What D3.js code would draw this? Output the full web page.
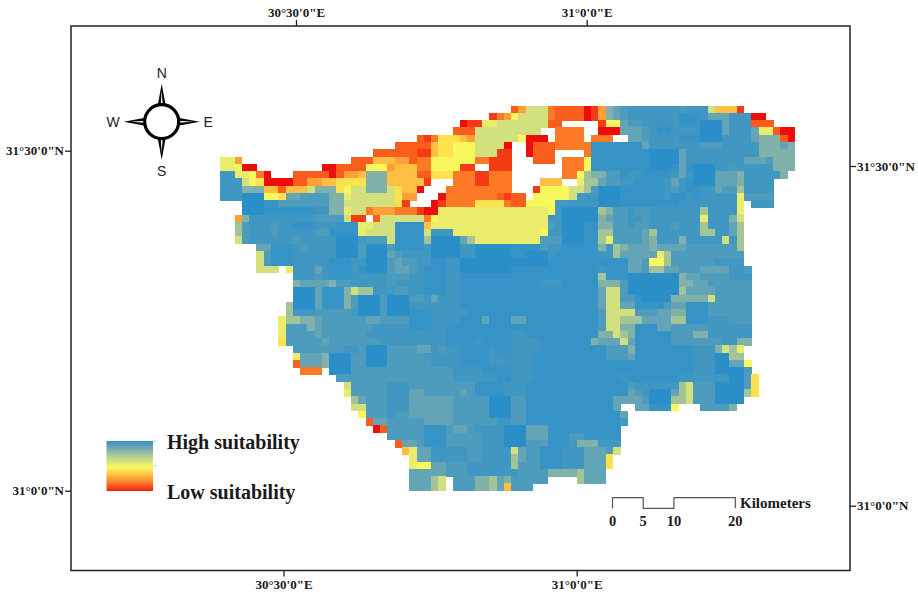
<!DOCTYPE html>
<html lang="en">
<head>
<meta charset="UTF-8">
<title>Suitability map</title>
<script src="https://d3js.org/d3.v7.min.js"></script>
<style>
    html, body { margin: 0; padding: 0; background: #fff; }
    .lab { font-family: "Liberation Serif", serif; font-weight: bold; fill: #1a1a1a; }
    .dir { font-family: "Liberation Sans", sans-serif; font-size: 14px; fill: #222; }
</style>
</head>
<body>
<div id="map"></div>
<script>
// one char per raster cell, low suitability (0) to high (g), "." is no data
const levels = "0123456789abcdefg".split("");
const levelColors = ["#ee1010", "#f43a14", "#fa5c1e", "#fc7a28", "#fda034", "#febf42", "#fde14e", "#f8f85c", "#eaec6c", "#d2e07e", "#a3c496", "#80b2aa", "#64a5b6", "#4e9cbe", "#4097c2", "#3693c5", "#2b8fc9"];

const rasterRows = [
".......... .......... .......... .......... 2499932222 014bcdeeee eeedeee955 51.......",
".......... .......... .......... .......134 7999932222 014bcdeeee eeefffeccc eee00....",
".......... .......... .......... ...0118899 9999922... ..177cddee feefffgggc eee222...",
".......... .......... .......... ..22299999 9999..3333 ..000cccde ffeeeegggc eeec88200",
".......... .......... .......213 6665499999 97000.3333 .333..ccde eeefffggge eeecbbb20",
".......... .......... ....222225 6677799990 ..02223333 3fffffffce eeeeeeddde eeeebbbcb",
".......... .......... .222222115 6677799911 ..0222.... 3ffffffffg gggceeeeee eeeebbbbb",
"884....... ........22 2555442337 7777733111 ...222.333 7ffffffffg gggceeeeee eecccdbbb",
"88700..... ....002222 7774555337 77711..111 .......333 7ffffffffg ggfcfgggee deeeeebbb",
"ee88730... 2222202445 bbb5555226 6633311333 .......337 abbddfeeff ffecegggcc cbeeeeeb.",
"eee9760000 2244556666 bbb555551. ..33311333 ....555..8 aacddeefff fecefgggcc cbeeee...",
"eeebbb5525 559bbb6799 bbb96550.. .333333333 ...1777799 adgggfffff fedeffeecd daeeee...",
"eeeggg776c cddddbb899 9999644... 0333333321 22.777779e eegggfffff feffefeeee e8dddd...",
"...gggffdd dddddbb999 999961...0 1333366663 227777eeee eegggfffff fffeeeeeee e8.eee...",
"...gggffff fffeebb899 3444333100 8888888888 888887eggg ggabddedde eeeeeeaeee e8.......",
"..4beeeeee eeedddd911 .299999937 8888888888 88888eeggg ggbcddeede eeeeee8eee b9.......",
"..adeeedee fffeeefff8 8999ffff58 8888888888 88888deggg ffbbddedde eedeeeaeee ca.......",
"..adeeedee eeeddffff8 9999ffff9e ee88888888 88887eeggg ffaaddddca eeeeeeaaee ca.......",
"..9deeeeee deeeeeggge ddd9ffffag gggca88888 8888dddggg ffa8ddddcb eeebeeeee9 ea.......",
".....ccfff edeeeegggd gggdffffeg gggeeggggg ffffdeefff ffbeabcccb ccccdddddd da.......",
".....9dfff eeeeeegggd gggcdeeeeg gggeeggggg ffgggeffff ffeeaccccc 8adddddddd dd.......",
".....9dfff eeeeefffee gggdcddeef feeggggggg gggggfffff ffffffccd7 7addddddee ee.......",
".....999.8 eeecefffef gggdccdeff feeggggggg ffffffffff ffefffccda accdddcccc eed......",
".......... eeedefffee eeedddeeff feefffffff ffffffffff ffafffgggg gggbccdddd eee......",
".......... bccccbddee eeedeeeeff feefffffff ffffeeefff ffbbbdgggg gggbbccddd ddd......",
".......... gggcfffb9a aeeeddeeff feefffffff ffffffffff ffc99dgggg gggaccccdd ddd......",
".......... gggcfffbdg ggdgggddec eeefffffff ffffffffff ffc99ddfgg ggbbbbb9dd ddd......",
".........a gggcfffbdg ggdgggeeee eeefffffff ffffffffff ffc99ccfff fdccfffddd ddd......",
".........a eeedddddeg ggdgggfffe eeeeffffff ffffffffff ffd9999ddd ccbbfffddd ddd......",
"........8a abbcdddddd ccddddfffe eeefffcfff ccffffffff ffd99aaacc ccaafffeee ddd......",
"........8d ddbcdddddd deeeeefffe efffffffff ffffffffff ffd99bbfff ccdddddeee eee......",
"........8d dddcdddddd eeeeeeeeee efffffffff eeffffffff ffbb9abfff ffdddbbeee eee......",
"........6d ddddcddddd ddeeeeeeee effffeffff eeeeffffff fbccc9cfff ffddddddde ebb......",
".......... dddddddeed gggddddcce deeffffeff eeeeffffff fffdddbfff fffffeeeb9 a8.......",
".......... 8cccbgggdd gggdddddee eeeffffeef eeefffffff fffdddcfff fffffeeegg aa.......",
".......... 2cccbgggdd gggdddddde eeeffffeee eeefffffff ffffffffff fffffeeegg cc7......",
".......... .333.gggdd dddddddddd ddeeeeffff eeefffffff ffffffffff fffffeeegg ggd......",
".......... ......dddd dddddddddd ddeeeeeeff eeefffffff fffffeffff fffeeeeeee ggd6.....",
".......... .......9dd dddeeedddd dddddffffe eeffffffff ffffffdeee eeea9dddgg ggd6.....",
".......... .......8dd dddeeeccdd dddcdffffe eeffffffff ffffffcdeg ggca9dddgg gga6.....",
".......... ........ac dddeeecccc ccdddddggg ddffffffff ffffccccdg ggaa9dddgg gg.......",
".......... ........99 dddeeecccc ccdddddggg ddffffffff ffffc..ccf ff7...dddd b........",
".......... .........7 dddeddcccc ccdddddggg ddffffffff fffffc.... .......... .........",
".......... .......... 2ccdddddcc ccddddddee ddffffffff fffffe.... .......... .........",
".......... .......... .02dddddff fdccdeeeeg ggcccfffff fffff..... .......... .........",
".......... .......... ...dddddff fdddddeeeg ggcccfffdd fffff..... .......... .........",
".......... .......... ....2ccdff fdddddeeeg ggdddfffeb bbeee..... .......... .........",
".......... .......... .....58cce eeeeddeeee 9cddfffeee cccd9..... .......... .........",
".......... .......... ......8cce eeeeddeeee acddfffeee ccc6...... .......... .........",
".......... .......... ......877c cdddeeeeee adddfffeee ccc6...... .......... .........",
".......... .......... ......cccc cdddeeeeee eddddbbbba ccc....... .......... .........",
".......... .......... ......ccca 9.dddbbacb ddddd....a ccc....... .......... .........",
".......... .......... ......ccca 9.dddbbac5 ddd....... .......... .......... ........."
];

const nCols = 79;

const topTicks = [30.5, 31];
const topTickLabels = ["30°30'0\"E", "31°0'0\"E"];
const bottomTicks = [30.5, 31];
const bottomTickLabels = ["30°30'0\"E", "31°0'0\"E"];
const leftTicks = [31.5, 31];
const leftTickLabels = ["31°30'0\"N", "31°0'0\"N"];
const rightTicks = [31.5, 31];
const rightTickLabels = ["31°30'0\"N", "31°0'0\"N"];

const scaleStops = [0, 5, 10, 20];
const legendLabels = ["High suitability", "Low suitability"];
const legendStops = ["#3490c6", "#7fb0aa", "#c4da88", "#f8f85c", "#febf42", "#fc7a28", "#f02012"];
const legendOffsets = [0, 0.18, 0.36, 0.53, 0.68, 0.84, 1];
const directions = ["N", "E", "S", "W"];

const width = 918, height = 596;
const frame = { left: 71, top: 26, right: 850, bottom: 570.5 };

const svg = d3.select("#map").append("svg")
    .attr("width", width)
    .attr("height", height)
    .style("display", "block");

const defs = svg.append("defs");
defs.append("filter").attr("id", "soft")
    .attr("x", "-2%").attr("y", "-2%").attr("width", "104%").attr("height", "104%")
    .append("feGaussianBlur").attr("stdDeviation", 0.4);

const ramp = defs.append("linearGradient").attr("id", "ramp")
    .attr("x1", 0).attr("y1", 0).attr("x2", 0).attr("y2", 1);
ramp.selectAll("stop").data(legendStops).enter().append("stop")
    .attr("offset", (d, i) => legendOffsets[i])
    .attr("stop-color", d => d);

// raster
const x = d3.scaleBand().domain(d3.range(nCols)).range([220, 795]);
const y = d3.scaleBand().domain(d3.range(rasterRows.length)).range([105.7, 490.7]);
const color = d3.scaleOrdinal(levels, levelColors);

const cells = [];
rasterRows.forEach((r, row) => {
    r.replace(/ /g, "").split("").forEach((c, col) => {
        if (c !== ".") cells.push({ row, col, level: c });
    });
});

svg.append("g").attr("filter", "url(#soft)")
    .attr("shape-rendering", "crispEdges")
    .selectAll("rect")
    .data(cells)
    .enter().append("rect")
    .attr("x", d => x(d.col))
    .attr("y", d => y(d.row))
    .attr("width", x.bandwidth() + 0.4)
    .attr("height", y.bandwidth() + 0.4)
    .attr("fill", d => color(d.level));

// frame and graticule ticks
svg.append("rect")
    .attr("x", frame.left).attr("y", frame.top)
    .attr("width", frame.right - frame.left).attr("height", frame.bottom - frame.top)
    .attr("fill", "none").attr("stroke", "#222").attr("stroke-width", 1.5);

function styleAxis(g) {
    g.select(".domain").remove();
    g.selectAll(".tick line").attr("stroke", "#222").attr("stroke-width", 1.3);
    g.selectAll(".tick text").attr("class", "lab").style("font-size", "13px").attr("fill", null);
}

const lonTop = d3.scaleLinear().domain([30.5, 31]).range([296, 586.7]);
const lonBottom = d3.scaleLinear().domain([30.5, 31]).range([283.5, 576.7]);
const latLeft = d3.scaleLinear().domain([31, 31.5]).range([490.7, 150.7]);
const latRight = d3.scaleLinear().domain([31, 31.5]).range([505.7, 166]);

svg.append("g").attr("transform", `translate(0,${frame.top})`)
    .call(d3.axisTop(lonTop).tickValues(topTicks).tickSize(6).tickPadding(3)
        .tickFormat((d, i) => topTickLabels[i]))
    .call(styleAxis);
svg.append("g").attr("transform", `translate(0,${frame.bottom})`)
    .call(d3.axisBottom(lonBottom).tickValues(bottomTicks).tickSize(6).tickPadding(3)
        .tickFormat((d, i) => bottomTickLabels[i]))
    .call(styleAxis);
svg.append("g").attr("transform", `translate(${frame.left},0)`)
    .call(d3.axisLeft(latLeft).tickValues(leftTicks).tickSize(6).tickPadding(1)
        .tickFormat((d, i) => leftTickLabels[i]))
    .call(styleAxis);
svg.append("g").attr("transform", `translate(${frame.right},0)`)
    .call(d3.axisRight(latRight).tickValues(rightTicks).tickSize(6).tickPadding(1)
        .tickFormat((d, i) => rightTickLabels[i]))
    .call(styleAxis);

// legend
const legend = svg.append("g").attr("transform", "translate(106.5,441)");
legend.append("rect").attr("width", 46.5).attr("height", 50).attr("fill", "url(#ramp)");
legend.selectAll("line").data([0, 25]).enter().append("line")
    .attr("x1", 46.5).attr("x2", 50).attr("y1", d => d).attr("y2", d => d)
    .attr("stroke", "#ccc");
legend.selectAll("text").data(legendLabels).enter().append("text")
    .attr("class", "lab")
    .attr("x", 60.5)
    .attr("y", (d, i) => i === 0 ? 8 : 58)
    .style("font-size", "20px")
    .text(d => d);

// scale bar
const km = d3.scaleLinear().domain([0, 20]).range([612.5, 735.3]);
const barTop = 497.7, barBottom = 508.3;
const bar = d3.path();
bar.moveTo(km(0), barBottom);
bar.lineTo(km(0), barTop);
bar.lineTo(km(5), barTop);
bar.lineTo(km(5), barBottom);
bar.lineTo(km(10), barBottom);
bar.lineTo(km(10), barTop);
bar.lineTo(km(20), barTop);
bar.lineTo(km(20), barBottom);
svg.append("path").attr("d", bar.toString())
    .attr("fill", "none").attr("stroke", "#555").attr("stroke-width", 1.2);
svg.append("g").selectAll("text").data(scaleStops).enter().append("text")
    .attr("class", "lab")
    .attr("x", d => km(d))
    .attr("y", 526)
    .attr("text-anchor", "middle")
    .style("font-size", "14.5px")
    .text(d => d);
svg.append("text").attr("class", "lab")
    .attr("x", 740).attr("y", 508)
    .style("font-size", "15px")
    .text("Kilometers");

// north arrow
const compass = svg.append("g").attr("transform", "translate(161.7,121.7)");
compass.selectAll("g.spike").data(directions).enter().append("g")
    .attr("class", "spike")
    .attr("transform", (d, i) => `rotate(${i * 90})`)
    .each(function() {
        const g = d3.select(this);
        g.append("path").attr("d", "M0,-38 L4.2,-15 L-4.2,-15 Z").attr("fill", "#000");
        g.append("path").attr("d", "M0,-31 L1,-17 L-1,-17 Z").attr("fill", "#fff");
    });
compass.append("circle").attr("r", 17).attr("fill", "#fff").attr("stroke", "#000").attr("stroke-width", 3.2);
compass.selectAll("text").data(directions).enter().append("text")
    .attr("class", "dir")
    .attr("text-anchor", "middle")
    .attr("x", (d, i) => [0, 46.5, 0, -48.5][i])
    .attr("y", (d, i) => [-43.5, 5, 54, 5][i])
    .text(d => d);
</script>
</body>
</html>
